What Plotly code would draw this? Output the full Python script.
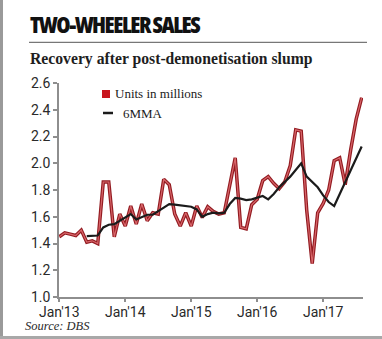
import plotly.graph_objects as go

# Monthly two-wheeler sales (millions of units) and 6-month moving average
month_idx = list(range(56))
units = [
    1.45, 1.48, 1.47, 1.46, 1.50, 1.41, 1.42, 1.40, 1.86, 1.86,
    1.45, 1.62, 1.53, 1.68, 1.545, 1.695, 1.57, 1.63, 1.62, 1.88,
    1.84, 1.62, 1.53, 1.63, 1.53, 1.68, 1.595, 1.675, 1.64, 1.62,
    1.63, 1.83, 2.04, 1.52, 1.51, 1.69, 1.73, 1.87, 1.90, 1.85,
    1.81, 1.86, 1.98, 2.25, 2.24, 1.65, 1.25, 1.63, 1.70, 1.80,
    2.02, 2.04, 1.84, 2.10, 2.33, 2.49,
]
mma_start = 5
mma = [
    1.455, 1.455, 1.46, 1.52, 1.54, 1.545, 1.57, 1.60, 1.62, 1.58,
    1.595, 1.615, 1.615, 1.64, 1.67, 1.695, 1.69, 1.685, 1.68, 1.675,
    1.655, 1.60, 1.62, 1.63, 1.625, 1.63, 1.695, 1.74, 1.735, 1.725,
    1.73, 1.745, 1.755, 1.73, 1.77, 1.82, 1.86, 1.90, 1.95, 2.00,
    1.90, 1.86, 1.82, 1.76, 1.71, 1.68, 1.77, 1.86, 1.94, 2.04, 2.125,
]
mma_idx = month_idx[mma_start:]

x_tick_idx = [0, 12, 24, 36, 48]
x_tick_text = ["Jan'13", "Jan'14", "Jan'15", "Jan'16", "Jan'17"]
y_ticks = [1.0, 1.2, 1.4, 1.6, 1.8, 2.0, 2.2, 2.4, 2.6]

W, H = 382, 339
ML, MR, MT, MB = 59, 19, 83, 42
PW, PH = W - ML - MR, H - MT - MB


def px(x):
    """Pixel column -> paper x."""
    return (x - ML) / PW


def py(y):
    """Pixel row -> paper y."""
    return (H - MB - y) / PH


AXIS_GREY = "#8e8e8e"
SANS = "Roboto, 'Open Sans', Arial, sans-serif"
SERIF = "'Liberation Serif', 'Times New Roman', serif"

fig = go.Figure()

# sales line: dark red casing with a lighter core
fig.add_trace(go.Scatter(x=month_idx, y=units, mode="lines",
                         line=dict(color="#931b21", width=3.5),
                         hoverinfo="skip", showlegend=False))
fig.add_trace(go.Scatter(x=month_idx, y=units, mode="lines",
                         line=dict(color="#d8666a", width=1.2),
                         name="Units in millions", showlegend=False))
# moving average
fig.add_trace(go.Scatter(x=mma_idx, y=mma, mode="lines",
                         line=dict(color="#1b1b1b", width=2.2),
                         name="6MMA", showlegend=False))

fig.update_xaxes(
    range=[-0.05, 55.24], tickmode="array", tickvals=x_tick_idx,
    ticktext=x_tick_text, showgrid=False, zeroline=False,
    showline=True, linecolor=AXIS_GREY, linewidth=1.5,
    ticks="outside", ticklen=3, tickwidth=1.5, tickcolor=AXIS_GREY,
    ticklabelstandoff=-2,
    tickfont=dict(family=SANS, size=14, color="#2a2a2a"),
)
fig.update_yaxes(
    range=[1.0, 2.6], tickmode="array", tickvals=y_ticks,
    ticktext=[f"{v:.1f}" for v in y_ticks], showgrid=False, zeroline=False,
    showline=True, linecolor=AXIS_GREY, linewidth=1.5,
    ticks="outside", ticklen=4, tickwidth=1.5, tickcolor=AXIS_GREY,
    tickfont=dict(family=SANS, size=14, color="#2a2a2a"),
)

annotations = [
    dict(text='<span style="font-stretch:75%;letter-spacing:-1.5px">TWO-WHEELER SALES</span>',
         x=px(28), y=py(24.5),
         font=dict(family="'Open Sans', Roboto, sans-serif", size=23, weight=800,
                   color="#111111")),
    dict(text="<b>Recovery after post-demonetisation slump</b>", x=px(28), y=py(58.5),
         font=dict(family=SERIF, size=15.7, color="#1e1e1e")),
    dict(text="Units in millions", x=px(113), y=py(94),
         font=dict(family=SERIF, size=13, color="#1a1a1a")),
    dict(text="6MMA", x=px(121), y=py(113),
         font=dict(family=SERIF, size=13, color="#1a1a1a")),
    dict(text="<i>Source: DBS</i>", x=px(23), y=py(326),
         font=dict(family=SERIF, size=12.5, color="#2a2a2a")),
]
for a in annotations:
    a.update(xref="paper", yref="paper", xanchor="left", yanchor="middle",
             showarrow=False)

shapes = [
    # rule under the headline
    dict(type="line", x0=px(29), x1=px(367), y0=py(42.3), y1=py(42.3),
         line=dict(color="#555555", width=1)),
    # key swatches
    dict(type="rect", x0=px(102), x1=px(110), y0=py(98), y1=py(90),
         fillcolor="#c8161e", line=dict(width=0)),
    dict(type="line", x0=px(103), x1=px(113), y0=py(113), y1=py(113),
         line=dict(color="#1b1b1b", width=2.5)),
    # frame edges
    dict(type="line", x0=px(1.5), x1=px(1.5), y0=py(0), y1=py(339),
         line=dict(color="#9a9a9a", width=3)),
    dict(type="line", x0=px(0), x1=px(382), y0=py(337.5), y1=py(337.5),
         line=dict(color="#a8a8a8", width=3)),
]
for s in shapes:
    s.update(xref="paper", yref="paper", layer="above")

fig.update_layout(
    width=W, height=H, autosize=False,
    margin=dict(l=ML, r=MR, t=MT, b=MB, pad=0),
    paper_bgcolor="white", plot_bgcolor="white",
    annotations=annotations, shapes=shapes,
    showlegend=False,
)

fig.write_html("out.html", config={"displayModeBar": False})
